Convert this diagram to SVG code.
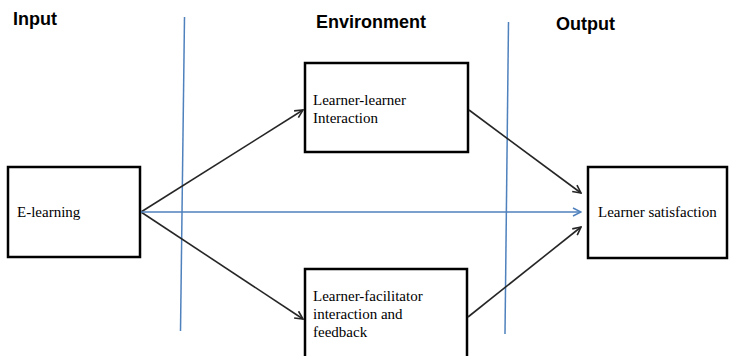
<svg xmlns="http://www.w3.org/2000/svg" width="729" height="356" viewBox="0 0 729 356">
<style>
.box{fill:#fff;stroke:#000;stroke-width:2.5}
.hdr{font-family:"Liberation Sans",Arial,sans-serif;font-weight:bold;font-size:18px;fill:#000}
.lbl{font-family:"Liberation Serif","Times New Roman",serif;font-size:15px;fill:#000}
.k{stroke:#262626;stroke-width:1.6;fill:none}
.b{stroke:#4f81bd;stroke-width:1.5;fill:none}
</style>
<defs>
<marker id="ak" viewBox="0 0 10 10" refX="9" refY="5" markerWidth="10" markerHeight="10" markerUnits="userSpaceOnUse" orient="auto"><path d="M1,1 L9,5 L1,9" fill="none" stroke="#262626" stroke-width="1.6"/></marker>
<marker id="ab" viewBox="0 0 10 10" refX="9" refY="5" markerWidth="10" markerHeight="10" markerUnits="userSpaceOnUse" orient="auto"><path d="M1,1 L9,5 L1,9" fill="none" stroke="#4f81bd" stroke-width="1.5"/></marker>
</defs>
<rect width="729" height="356" fill="#fff"/>
<g id="headers">
<text class="hdr" x="13" y="25">Input</text>
<text class="hdr" x="316" y="28">Environment</text>
<text class="hdr" x="556" y="30">Output</text>
</g>
<g id="dividers">
<line class="b" x1="184.5" y1="17" x2="180.5" y2="331"/>
<line class="b" x1="508.5" y1="22" x2="505" y2="334"/>
</g>
<g id="n-elearning">
<rect class="box" x="8" y="167" width="132" height="90"/>
<text class="lbl" x="17" y="217">E-learning</text>
</g>
<g id="n-ll">
<rect class="box" x="305" y="63" width="163" height="89"/>
<text class="lbl" x="313" y="105">Learner-learner</text>
<text class="lbl" x="313" y="123">Interaction</text>
</g>
<g id="n-lf">
<rect class="box" x="305" y="269" width="162" height="95"/>
<text class="lbl" x="313" y="301">Learner-facilitator</text>
<text class="lbl" x="313" y="319">interaction and</text>
<text class="lbl" x="313" y="337">feedback</text>
</g>
<g id="n-ls">
<rect class="box" x="588" y="167" width="139" height="91"/>
<text class="lbl" x="598" y="217">Learner satisfaction</text>
</g>
<g id="connectors">
<line class="k" x1="141" y1="212" x2="303" y2="110" marker-end="url(#ak)"/>
<line class="k" x1="141" y1="212" x2="303" y2="319" marker-end="url(#ak)"/>
<line class="b" x1="141" y1="212" x2="581" y2="212" marker-end="url(#ab)"/>
<line class="k" x1="469" y1="110" x2="581" y2="193" marker-end="url(#ak)"/>
<line class="k" x1="468" y1="317" x2="581" y2="227" marker-end="url(#ak)"/>
</g>
</svg>
